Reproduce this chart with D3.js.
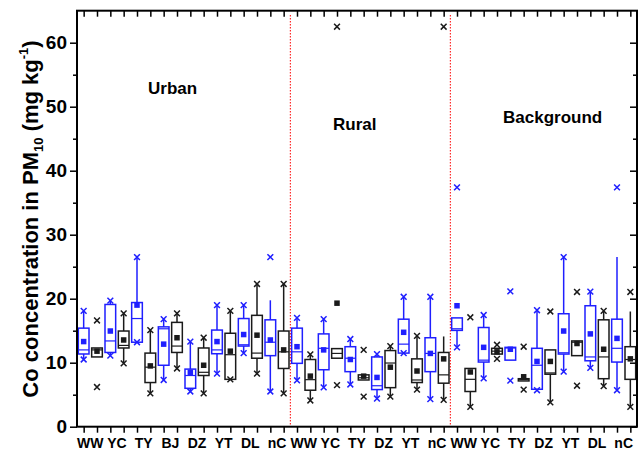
<!DOCTYPE html>
<html>
<head>
<meta charset="utf-8">
<script src="https://cdn.jsdelivr.net/npm/d3@7/dist/d3.min.js"></script>
<style>
html,body{margin:0;padding:0;background:#fff;}
svg{display:block;}
text{font-family:"Liberation Sans",Arial,sans-serif;font-weight:bold;}
</style>
</head>
<body>
<svg id="chart" width="640" height="459"></svg>
<script>
// ---------------- data ----------------
const groupNames = ["Urban", "Rural", "Background"];
const urbanSites = ["WW", "YC", "TY", "BJ", "DZ", "YT", "DL", "nC"];
const ruralSites = ["WW", "YC", "TY", "DZ", "YT", "nC"];
const backgroundSites = ["WW", "YC", "TY", "DZ", "YT", "DL", "nC"];
const yTicks = [0, 10, 20, 30, 40, 50, 60];
const yMinorTicks = [5, 15, 25, 35, 45, 55];

// 42 boxes in order (two per site: first series, second series)
const q3 = [15.4,12.3,19.1,14.95,19.4,11.5,15.6,16.3,9.0,12.3,15.1,14.6,16.9,17.4,16.7,14.95,
            15.4,10.5,14.5,12.2,12.5,8.1,10.9,11.9,16.8,10.6,13.9,11.6,
            17.0,9.1,15.5,12.25,12.4,7.5,12.25,12.0,17.65,13.4,18.9,16.7,16.8,12.5];
const q1 = [11.36,10.9,11.6,12.3,13.2,6.9,9.6,11.6,6.0,8.0,11.4,7.4,12.6,10.7,11.1,9.1,
            9.9,5.7,8.9,10.7,8.6,7.3,5.8,6.1,11.5,6.9,8.6,6.8,
            15.05,5.5,10.1,11.35,10.4,7.15,5.85,8.2,11.35,11.1,10.3,7.5,10.1,7.4];
const median = [12.0,12.0,13.4,12.7,16.9,9.3,15.3,12.6,8.0,8.5,12.0,11.25,12.8,11.5,13.2,11.7,
            11.7,7.35,12.25,11.45,10.7,7.65,6.4,9.95,12.9,7.3,11.45,8.1,
            15.3,7.4,10.4,11.8,12.3,7.4,9.6,8.4,11.55,13.2,10.9,10.9,12.25,10.5];
const mean = [13.3,11.8,14.95,13.55,19.0,9.5,12.9,13.9,8.5,9.6,13.3,11.8,14.4,14.3,13.55,12.0,
            12.5,7.9,12.0,19.3,10.5,7.9,7.7,9.3,14.75,8.7,11.45,10.6,
            18.9,8.55,12.4,11.7,12.1,7.8,10.2,10.2,14.95,13.0,14.5,12.1,13.8,10.6];
const whiskerHigh = [18.1,12.3,19.7,17.7,26.5,15.1,16.8,17.7,13.3,13.9,19.0,18.1,19.0,22.3,19.75,22.3,
            17.0,11.3,16.8,12.2,13.7,8.1,11.35,12.6,20.3,14.2,20.3,14.1,
            17.0,9.1,17.45,12.25,12.4,7.5,18.2,12.0,26.5,13.4,21.1,18.1,26.5,18.0];
const whiskerLow = [10.5,10.9,11.1,9.9,13.2,5.2,7.3,9.1,5.5,5.2,8.3,7.4,11.5,8.3,5.5,5.2,
            7.25,4.1,6.15,10.7,6.6,7.3,4.4,4.7,11.5,5.8,4.3,4.2,
            12.4,3.1,7.55,11.35,10.4,7.15,5.7,3.8,8.6,11.1,9.2,6.35,5.7,3.1];
const markHigh = [18.1,16.6,19.7,17.7,26.5,15.1,16.8,17.7,13.3,13.9,19.0,18.1,19.0,22.3,26.5,22.3,
            17.0,11.3,16.8,62.5,13.7,12.0,11.35,12.6,20.3,14.2,20.3,62.5,
            37.4,17.1,17.45,12.8,21.15,12.5,18.2,18.0,26.5,21.05,21.1,18.1,37.4,21.05];
const markLow = [10.5,6.2,11.1,9.9,13.2,5.2,7.3,9.1,5.5,5.2,8.3,7.4,11.5,8.3,5.5,5.2,
            7.25,4.1,6.15,6.5,6.6,4.7,4.4,4.7,11.5,5.8,4.3,4.2,
            12.4,3.1,7.55,10.6,7.2,5.8,5.7,3.8,8.6,6.4,9.2,6.35,5.7,3.1];

// ---------------- layout ----------------
const svg = d3.select("#chart");
const L = 77, R = 637, T = 10.7, B = 426.7;
const nBoxes = q3.length;
const x = d3.scaleLinear().domain([0.5, nBoxes + 0.5]).range([L, R]);
const y = d3.scaleLinear().domain([0, 65]).range([B, T]);
const BLUE = "#1f1fff", BLACK = "#1a1a1a";
const colorOf = i => (i % 2 === 0 ? BLUE : BLACK);
const boxW = (x(2) - x(1)) * 0.8;

const groupSites = [urbanSites, ruralSites, backgroundSites];
const groupStart = [];
let acc = 0;
groupSites.forEach(s => { groupStart.push(acc); acc += s.length * 2; });

// red dotted separators
groupStart.slice(1).forEach(s => {
  svg.append("line")
    .attr("x1", x(s + 0.5)).attr("x2", x(s + 0.5))
    .attr("y1", 15).attr("y2", B)
    .attr("stroke", "#ff0000").attr("stroke-width", 1)
    .attr("stroke-dasharray", "1.5,1.5");
});

// boxes
const boxes = d3.range(nBoxes).map(i => ({
  i, q1: q1[i], q3: q3[i], med: median[i], mean: mean[i],
  wh: whiskerHigh[i], wl: whiskerLow[i], mh: markHigh[i], ml: markLow[i]
}));

const g = svg.append("g");
boxes.forEach(d => {
  const cx = x(d.i + 1), c = colorOf(d.i);
  const gg = g.append("g");
  if (d.wh > d.q3) gg.append("line").attr("x1", cx).attr("x2", cx)
      .attr("y1", y(d.q3)).attr("y2", y(d.wh)).attr("stroke", c).attr("stroke-width", 1.5);
  if (d.wl < d.q1) gg.append("line").attr("x1", cx).attr("x2", cx)
      .attr("y1", y(d.q1)).attr("y2", y(d.wl)).attr("stroke", c).attr("stroke-width", 1.5);
  gg.append("rect").attr("x", cx - boxW / 2).attr("width", boxW)
    .attr("y", y(d.q3)).attr("height", Math.max(0.5, y(d.q1) - y(d.q3)))
    .attr("fill", "none").attr("stroke", c).attr("stroke-width", 1.5);
  gg.append("line").attr("x1", cx - boxW / 2).attr("x2", cx + boxW / 2)
    .attr("y1", y(d.med)).attr("y2", y(d.med)).attr("stroke", c).attr("stroke-width", 1.2);
  // mean square
  const s = 5.5;
  gg.append("rect").attr("x", cx - s / 2).attr("y", y(d.mean) - s / 2)
    .attr("width", s).attr("height", s).attr("fill", c);
  // x markers
  [d.mh, d.ml].forEach(v => {
    const py = y(v), h = 2.9;
    gg.append("path")
      .attr("d", `M${cx - h},${py - h}L${cx + h},${py + h}M${cx - h},${py + h}L${cx + h},${py - h}`)
      .attr("stroke", c).attr("stroke-width", 1.5).attr("fill", "none");
  });
});

// ---------------- axes ----------------
const pos = d3.range(1, nBoxes + 1);
const axStyle = sel => {
  sel.select(".domain").remove();
  sel.selectAll(".tick line").attr("stroke", "#000").attr("stroke-width", 1.5);
  sel.selectAll(".tick text").attr("fill", "#000");
};
// bottom ticks (outward)
svg.append("g").attr("transform", `translate(0,${B})`)
  .call(d3.axisBottom(x).tickValues(pos).tickSize(6).tickFormat(""))
  .call(axStyle);
// top ticks (inward)
svg.append("g").attr("transform", `translate(0,${T})`)
  .call(d3.axisBottom(x).tickValues(pos).tickSize(6).tickFormat(""))
  .call(axStyle);
// left major ticks with labels
svg.append("g").attr("transform", `translate(${L},0)`)
  .call(d3.axisLeft(y).tickValues(yTicks).tickSize(7).tickPadding(3).tickFormat(d3.format("d")))
  .call(axStyle)
  .selectAll(".tick text").style("font-size", "19px").style("font-weight", "bold")
  .style("font-family", '"Liberation Sans",Arial,sans-serif');
svg.append("g").attr("transform", `translate(${L},0)`)
  .call(d3.axisLeft(y).tickValues(yMinorTicks).tickSize(4).tickFormat(""))
  .call(axStyle);
// right ticks (inward)
svg.append("g").attr("transform", `translate(${R},0)`)
  .call(d3.axisLeft(y).tickValues(yTicks).tickSize(7).tickFormat(""))
  .call(axStyle);
svg.append("g").attr("transform", `translate(${R},0)`)
  .call(d3.axisLeft(y).tickValues(yMinorTicks).tickSize(4).tickFormat(""))
  .call(axStyle);

// frame
svg.append("rect").attr("x", L).attr("y", T).attr("width", R - L).attr("height", B - T)
  .attr("fill", "none").attr("stroke", "#000").attr("stroke-width", 2);

// x category labels
groupSites.forEach((sites, gi) => {
  sites.forEach((s, si) => {
    const k = groupStart[gi] + si * 2;
    svg.append("text")
      .attr("x", x(k + 1.5)).attr("y", 448)
      .attr("text-anchor", "middle").style("font-size", "14px")
      .text(s);
  });
});

// group labels
const groupLabelPos = [[148, 94], [333, 130], [503, 123]];
groupNames.forEach((nm, i) => {
  svg.append("text").attr("x", groupLabelPos[i][0]).attr("y", groupLabelPos[i][1])
    .style("font-size", "17px").text(nm);
});

// y title
const yt = svg.append("text")
  .attr("transform", "translate(38,219) rotate(-90)")
  .attr("text-anchor", "middle").style("font-size", "22px");
yt.append("tspan").text("Co concentration in PM");
yt.append("tspan").text("10").style("font-size", "13px").attr("dy", 5);
yt.append("tspan").text(" (mg kg").style("font-size", "22px").attr("dy", -5);
yt.append("tspan").text("-1").style("font-size", "13px").attr("dy", -10);
yt.append("tspan").text(")").style("font-size", "22px").attr("dy", 10);
</script>
</body>
</html>
